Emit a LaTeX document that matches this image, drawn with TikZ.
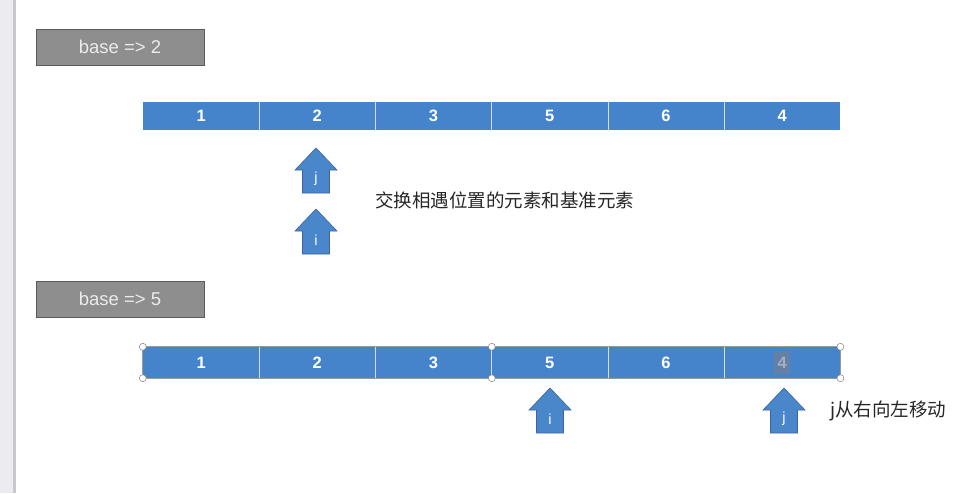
\documentclass[tikz,border=0pt]{standalone}
\usepackage{fontspec}
\setmainfont{Liberation Sans}
\newfontfamily\cjk{Noto Sans CJK SC}
\definecolor{cellblue}{RGB}{69,131,202}
\definecolor{arrowblue}{RGB}{74,134,202}
\definecolor{arrowedge}{RGB}{60,100,160}
\definecolor{basegray}{RGB}{142,142,142}
\definecolor{baseedge}{RGB}{90,90,90}
\definecolor{sideband}{RGB}{236,236,240}
\definecolor{sideline}{RGB}{200,200,205}
\definecolor{celltxt}{RGB}{255,255,255}
\definecolor{hlfill}{RGB}{100,128,165}
\definecolor{hltext}{RGB}{165,175,190}
\begin{document}
\begin{tikzpicture}[x=1pt,y=-1pt,
  basebox/.style={draw=baseedge,fill=basegray,line width=0.8pt,minimum width=168pt,minimum height=36pt,inner sep=0pt,text=white!92!black,font=\fontsize{18.5}{20}\selectfont},
  cellbox/.style={fill=cellblue,draw=none,minimum width=116.2pt,inner sep=0pt,text=celltxt,font=\bfseries\fontsize{16.5}{18}\selectfont},
  sep/.style={draw=white!75!cellblue,line width=1pt},
  handle/.style={circle,draw=gray,fill=white,inner sep=0pt,minimum size=7pt,line width=0.5pt},
  arrowshape/.style={fill=arrowblue,draw=arrowedge,line width=0.6pt},
  arrowlbl/.style={text=white,font=\fontsize{14.5}{16}\selectfont,inner sep=0pt},
  note/.style={font=\cjk\fontsize{18.5}{21}\selectfont,text=black!85,inner sep=0pt,anchor=west}]
\useasboundingbox (0,0) rectangle (973,493);
% side band
\fill[sideband] (0,0) rectangle (13,493);
\fill[sideline] (13,0) rectangle (16,493);
% base boxes
\node[basebox] (b1) at (120,47) {base => 2};
\node[basebox] (b2) at (120,299) {base => 5};
% array 1
\foreach \v [count=\k] in {1,2,3,5,6,4}{
  \node[cellbox,minimum height=28pt] (a\k) at ({143+116.2*(\k-0.5)},116) {\v};
}
\foreach \k in {1,...,5}{\draw[sep] (a\k.north east) -- (a\k.south east);}
% array 2
\foreach \v [count=\k] in {1,2,3,5,6,4}{
  \node[cellbox,minimum height=31pt] (c\k) at ({143+116.2*(\k-0.5)},362.5) {\ifnum\k=6\relax\else\v\fi};
}
\foreach \k in {1,...,5}{\draw[sep] (c\k.north east) -- (c\k.south east);}
\draw[gray!80,line width=0.8pt] (c1.north west) rectangle (c6.south east);
\node[fill=hlfill,minimum width=16pt,minimum height=23pt,inner sep=0pt] (hl) at (c6.center) {};
\node[text=hltext,font=\bfseries\fontsize{16.5}{18}\selectfont,inner sep=0pt] (h4) at (c6.center) {4};
\foreach \p/\n in {c1.north west/h1,c1.south west/h2,c3.north east/h3,c3.south east/h4b,c6.north east/h5,c6.south east/h6}{
  \node[handle] (\n) at (\p) {};
}
% arrows
\foreach \cx/\ty/\lb/\nm in {316/148/j/aj1,316/209/i/ai1,550/388/i/ai2,784/388/j/aj2}{
  \draw[arrowshape] (\cx,\ty) -- (\cx+21,\ty+22) -- (\cx+13.5,\ty+22) -- (\cx+13.5,\ty+45)
     -- (\cx-13.5,\ty+45) -- (\cx-13.5,\ty+22) -- (\cx-21,\ty+22) -- cycle;
  \node[arrowlbl] (\nm) at (\cx,\ty+31) {\lb};
}
% notes
\node[note] (n1) at (375,200) {交换相遇位置的元素和基准元素};
\node[note] (n2) at (830,411) {j从右向左移动};
\end{tikzpicture}
\end{document}
